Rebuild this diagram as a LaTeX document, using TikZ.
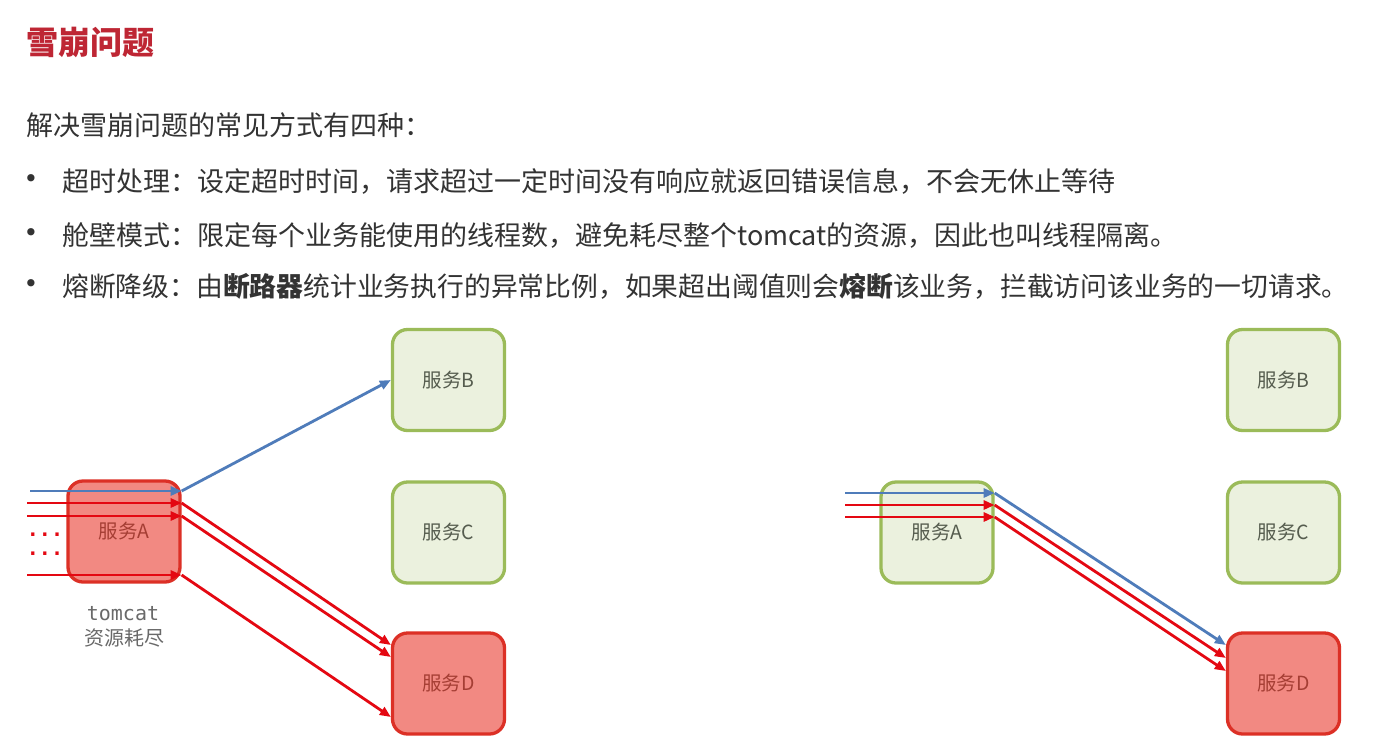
\documentclass[tikz,border=0pt]{standalone}
\usepackage{fontspec}
\setmainfont{Noto Sans CJK SC}
\newfontfamily\codefont{DejaVu Sans Mono}
\newfontfamily\markfont{DejaVu Sans}
\usetikzlibrary{arrows.meta}

\definecolor{titlered}{RGB}{190,38,52}
\definecolor{bodytext}{RGB}{51,51,51}
\definecolor{okfill}{RGB}{235,241,222}
\definecolor{okborder}{RGB}{155,187,89}
\definecolor{oktext}{RGB}{85,92,78}
\definecolor{badfill}{RGB}{242,137,130}
\definecolor{badborder}{RGB}{220,48,38}
\definecolor{badtext}{RGB}{165,62,52}
\definecolor{callblue}{RGB}{79,124,186}
\definecolor{callred}{RGB}{228,8,18}
\definecolor{notegray}{RGB}{105,105,105}

\tikzset{
  svc/.style={draw, rounded corners=15pt, line width=3.3pt,
    minimum width=112pt, minimum height=101pt, inner sep=0pt,
    font=\fontsize{19.5}{22}\selectfont},
  okbox/.style={svc, draw=okborder, fill=okfill, text=oktext},
  badbox/.style={svc, draw=badborder, fill=badfill, text=badtext},
  call/.style={line width=2.8pt, -{Triangle[length=11pt,width=9pt]}},
  bluecall/.style={call, draw=callblue, fill=callblue},
  redcall/.style={call, draw=callred, fill=callred},
  bodyline/.style={anchor=west, inner sep=0pt, text=bodytext,
    font=\fontsize{27}{30}\selectfont},
  bulletmark/.style={inner sep=0pt, text=bodytext,
    font=\fontsize{25}{28}\selectfont\markfont},
  dotrow/.style={inner sep=0pt, text=callred,
    font=\fontsize{20}{22}\selectfont\codefont\bfseries}
}

\begin{document}
\begin{tikzpicture}[x=1pt,y=-1pt]
\useasboundingbox (0,0) rectangle (1380,750);
\fill[white] (0,0) rectangle (1380,750);

% heading and text
\node[anchor=west, inner sep=0pt, text=titlered,
      font=\fontsize{32}{36}\selectfont\bfseries] (title) at (26,42) {雪崩问题};
\node[bodyline] (intro) at (26,125) {解决雪崩问题的常见方式有四种：};

\node[bulletmark] (b1) at (31,181) {•};
\node[bulletmark] (b2) at (31,235) {•};
\node[bulletmark] (b3) at (31,286) {•};
\node[bodyline] (t1) at (62,181) {超时处理：设定超时时间，请求超过一定时间没有响应就返回错误信息，不会无休止等待};
\node[bodyline] (t2) at (62,235) {舱壁模式：限定每个业务能使用的线程数，避免耗尽整个tomcat的资源，因此也叫线程隔离。};
\node[bodyline, font=\fontsize{26.8}{30}\selectfont] (t3) at (62,286) {熔断降级：由\textbf{断路器}统计业务执行的异常比例，如果超出阈值则会\textbf{熔断}该业务，拦截访问该业务的一切请求。};

% left: exhausted service A drags everything down
\node[badbox] (A) at (124,531.5) {服务A};
\node[okbox]  (B) at (448.5,380) {服务B};
\node[okbox]  (C) at (448.5,532.5) {服务C};
\node[badbox] (D) at (448.5,683.5) {服务D};

\node[inner sep=0pt, text=notegray, font=\fontsize{20}{22}\selectfont\codefont] (tc) at (123,614) {tomcat};
\node[inner sep=0pt, text=notegray, font=\fontsize{20}{22}\selectfont] (tcx) at (124,638) {资源耗尽};

\node[dotrow] (dots1) at (45,535) {...};
\node[dotrow] (dots2) at (45,554) {...};

\coordinate (inL1) at (30,491);
\coordinate (inL2) at (27,503);
\coordinate (inL3) at (27,516);
\coordinate (inL4) at (27,575);
\coordinate (dL1) at (391,645);
\coordinate (dL2) at (391,657);
\coordinate (dL3) at (391,717);

\draw[bluecall] (inL1) -- (inL1 -| A.east);
\draw[redcall]  (inL2) -- (inL2 -| A.east);
\draw[redcall]  (inL3) -- (inL3 -| A.east);
\draw[redcall]  (inL4) -- (inL4 -| A.east);

\draw[bluecall] (inL1 -| A.east) -- (B.west);
\draw[redcall]  (inL2 -| A.east) -- (dL1 -| D.west);
\draw[redcall]  (inL3 -| A.east) -- (dL2 -| D.west);
\draw[redcall]  (inL4 -| A.east) -- (dL3 -| D.west);

% right: only the failing service D is affected
\node[okbox]  (A2) at (937,532.5) {服务A};
\node[okbox]  (B2) at (1283.5,380) {服务B};
\node[okbox]  (C2) at (1283.5,532.5) {服务C};
\node[badbox] (D2) at (1283.5,683.5) {服务D};

\coordinate (inR1) at (845,493);
\coordinate (inR2) at (845,505);
\coordinate (inR3) at (845,517);
\coordinate (dR1) at (1226,645);
\coordinate (dR2) at (1226,658);
\coordinate (dR3) at (1226,671);

\draw[bluecall] (inR1) -- (inR1 -| A2.east);
\draw[redcall]  (inR2) -- (inR2 -| A2.east);
\draw[redcall]  (inR3) -- (inR3 -| A2.east);

\draw[bluecall] (inR1 -| A2.east) -- (dR1 -| D2.west);
\draw[redcall]  (inR2 -| A2.east) -- (dR2 -| D2.west);
\draw[redcall]  (inR3 -| A2.east) -- (dR3 -| D2.west);
\end{tikzpicture}
\end{document}
